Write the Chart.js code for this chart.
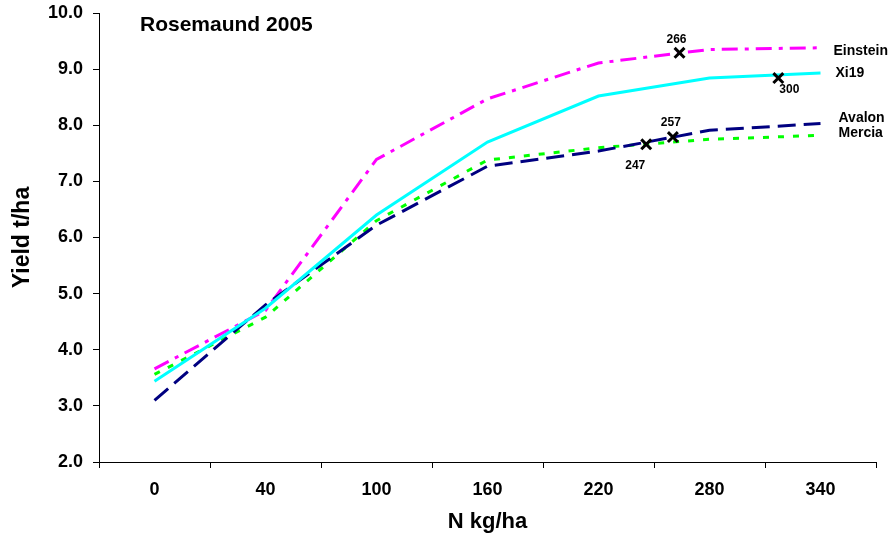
<!DOCTYPE html>
<html>
<head>
<meta charset="utf-8">
<title>Rosemaund 2005</title>
<script src="https://cdn.jsdelivr.net/npm/chart.js@4.4.0/dist/chart.umd.min.js"></script>
<style>
  html, body { margin: 0; padding: 0; background: #fff; }
  #wrap { width: 890px; height: 539px; }
</style>
</head>
<body>
<div id="wrap"><canvas id="myChart" width="890" height="539"></canvas></div>
<script>
// N rates (kg/ha) along the x axis
const nRates = ["0", "40", "100", "160", "220", "280", "340"];

// grain yield, t/ha
const einstein = [3.66, 4.70, 7.39, 8.47, 9.11, 9.35, 9.38];
const xi19 = [3.44, 4.74, 6.40, 7.70, 8.52, 8.84, 8.93];
const avalon = [3.10, 4.80, 6.22, 7.27, 7.54, 7.91, 8.03];
const mercia = [3.56, 4.58, 6.30, 7.38, 7.60, 7.75, 7.82];

const varieties = ["Einstein", "Xi19", "Avalon", "Mercia"];

// optimum N per variety: label, spot along the category axis, yield there
const optLabels = ["266", "300", "257", "247"];
const optAxisPos = [4.73, 5.62, 4.67, 4.43];
const optYield = [9.29, 8.84, 7.79, 7.66];

const yMin = 2;
const yMax = 10;

const FONT = 'Arial, "Liberation Sans", sans-serif';

// names at the line ends, N values by the crosses, and the site title
const textPlugin = {
  id: "textPlugin",
  afterDatasetsDraw(chart) {
    const ctx = chart.ctx;
    ctx.save();
    ctx.fillStyle = "#000";
    ctx.textBaseline = "middle";

    ctx.font = "bold 14px " + FONT;
    ctx.textAlign = "left";
    const nameDx = [13, 15, 18, 18];
    const nameDy = [3, 0, -5, -2];
    varieties.forEach((name, i) => {
      const pts = chart.getDatasetMeta(i).data;
      const last = pts[pts.length - 1];
      ctx.fillText(name, last.x + nameDx[i], last.y + nameDy[i]);
    });

    ctx.font = "bold 12px " + FONT;
    ctx.textAlign = "center";
    const offs = [[-3, -13], [11, 12], [-2, -14], [-11, 21]];
    chart.getDatasetMeta(4).data.forEach((pt, i) => {
      ctx.fillText(optLabels[i], pt.x + offs[i][0], pt.y + offs[i][1]);
    });

    ctx.font = "bold 21px " + FONT;
    ctx.textAlign = "left";
    ctx.fillText("Rosemaund 2005", chart.chartArea.left + 41, chart.chartArea.top + 12);
    ctx.restore();
  }
};

const lineStyle = (label, data, color, dash, order) => ({
  label: label,
  data: data,
  borderColor: color,
  backgroundColor: color,
  borderWidth: 3,
  borderDash: dash,
  borderCapStyle: "butt",
  tension: 0,
  pointRadius: 0,
  fill: false,
  order: order
});

const ctx = document.getElementById("myChart").getContext("2d");

new Chart(ctx, {
  type: "line",
  data: {
    labels: nRates,
    datasets: [
      lineStyle("Einstein", einstein, "#FF00FF", [16, 7, 4, 7], 3),
      lineStyle("Xi19", xi19, "#00FFFF", [], 1),
      lineStyle("Avalon", avalon, "#000080", [18, 8], 2),
      lineStyle("Mercia", mercia, "#00FF00", [6, 9], 4),
      {
        type: "scatter",
        label: "optimum",
        data: optAxisPos.map((x, i) => ({ x: x, y: optYield[i] })),
        xAxisID: "xOpt",
        pointStyle: "crossRot",
        pointRadius: 7,
        borderColor: "#000",
        backgroundColor: "#000",
        borderWidth: 3,
        showLine: false,
        order: 0
      }
    ]
  },
  options: {
    responsive: false,
    animation: false,
    events: [],
    layout: { padding: { top: 13, right: 14, left: 0, bottom: 0 } },
    plugins: {
      legend: { display: false },
      tooltip: { enabled: false },
      title: { display: false }
    },
    scales: {
      x: {
        type: "category",
        offset: true,
        grid: {
          display: true,
          drawOnChartArea: false,
          offset: true,
          tickLength: 6,
          color: "#000"
        },
        border: { color: "#000", width: 1 },
        ticks: {
          color: "#000",
          font: { family: FONT, size: 18, weight: "bold" },
          padding: 11,
          maxRotation: 0
        },
        title: {
          display: true,
          text: "N kg/ha",
          color: "#000",
          font: { family: FONT, size: 22, weight: "bold" },
          padding: { top: 0, bottom: 4 }
        },
        afterFit(scale) { scale.height = 77; }
      },
      xOpt: {
        type: "linear",
        display: false,
        min: -0.5,
        max: 6.5
      },
      y: {
        min: yMin,
        max: yMax,
        grid: {
          display: true,
          drawOnChartArea: false,
          tickLength: 6,
          color: "#000"
        },
        border: { color: "#000", width: 1 },
        ticks: {
          stepSize: 1,
          color: "#000",
          font: { family: FONT, size: 18, weight: "bold" },
          padding: 10,
          callback: (v) => Number(v).toFixed(1)
        },
        title: {
          display: true,
          text: "Yield t/ha",
          color: "#000",
          font: { family: FONT, size: 23, weight: "bold" },
          padding: { top: 9, bottom: 0 }
        },
        afterFit(scale) {
          scale.width = 99;
          scale.paddingTop = 0;
          scale.paddingBottom = 0;
        }
      }
    }
  },
  plugins: [textPlugin]
});
</script>
</body>
</html>
